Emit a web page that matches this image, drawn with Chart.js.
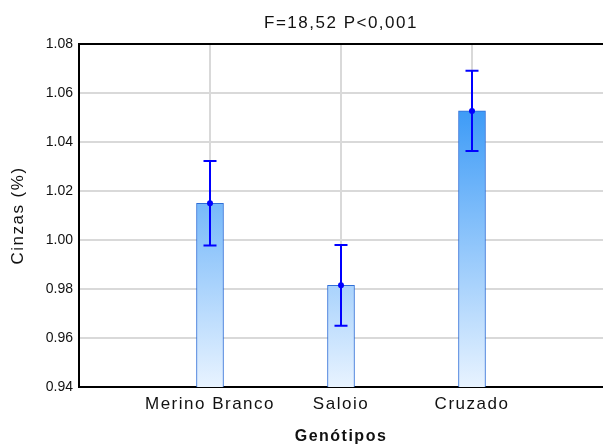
<!DOCTYPE html>
<html>
<head>
<meta charset="utf-8">
<script src="https://cdn.jsdelivr.net/npm/chart.js@4.4.1/dist/chart.umd.min.js"></script>
<style>
    html, body { margin: 0; padding: 0; background: #ffffff; }
    #wrap { width: 603px; height: 448px; }
</style>
</head>
<body>
<div id="wrap"><canvas id="myChart" width="603" height="448"></canvas></div>
<script>
// Data
const categories = ['Merino Branco', 'Saloio', 'Cruzado'];
const positions = [1, 2, 3];
const means = [1.015, 0.9815, 1.0527];
const errors = [0.0172, 0.0165, 0.0164];
const yTicks = [0.94, 0.96, 0.98, 1.00, 1.02, 1.04, 1.06, 1.08];

const chartTitle = 'F=18,52 P<0,001';
const xTitle = 'Genótipos';
const yTitle = 'Cinzas (%)';

const fontFamily = "'Liberation Sans', Arial, sans-serif";
const gridGray = '#d9d9d9';

// stretch the text a bit, the original is wide; y tick labels are drawn later without it
const spacing = {
    id: 'spacing',
    beforeUpdate(chart) { chart.ctx.letterSpacing = '1.5px'; },
    beforeDraw(chart) { chart.ctx.letterSpacing = '1.5px'; },
    afterDatasetsDraw(chart) { chart.ctx.letterSpacing = '0px'; }
};

// mean point and +/- error whiskers
const errorBars = {
    id: 'errorBars',
    afterDatasetsDraw(chart) {
        const ctx = chart.ctx;
        const x = chart.scales.x;
        const y = chart.scales.y;
        ctx.save();
        ctx.strokeStyle = '#0000ff';
        ctx.fillStyle = '#0000ff';
        ctx.lineWidth = 2;
        positions.forEach((p, i) => {
            const px = x.getPixelForValue(p);
            const top = y.getPixelForValue(means[i] + errors[i]);
            const bot = y.getPixelForValue(means[i] - errors[i]);
            const mid = y.getPixelForValue(means[i]);
            ctx.beginPath();
            ctx.moveTo(px, top); ctx.lineTo(px, bot);
            ctx.moveTo(px - 6.5, top); ctx.lineTo(px + 6.5, top);
            ctx.moveTo(px - 6.5, bot); ctx.lineTo(px + 6.5, bot);
            ctx.stroke();
            ctx.beginPath();
            ctx.arc(px, mid, 3, 0, Math.PI * 2);
            ctx.fill();
        });
        ctx.restore();
    }
};

var ctx = document.getElementById('myChart').getContext('2d');
var myChart = new Chart(ctx, {
    type: 'bar',
    data: {
        datasets: [{
            data: positions.map((p, i) => ({ x: p, y: means[i] })),
            backgroundColor: function (context) {
                const area = context.chart.chartArea;
                if (!area) return '#6cb6fd';
                const g = context.chart.ctx.createLinearGradient(0, area.top, 0, area.bottom);
                g.addColorStop(0, '#1486f5');
                g.addColorStop(1, '#e8f3ff');
                return g;
            },
            borderColor: '#2f6fd8',
            borderWidth: 1,
            borderSkipped: 'bottom',
            barThickness: 27
        }]
    },
    plugins: [spacing, errorBars],
    options: {
        responsive: false,
        animation: false,
        events: [],
        layout: { padding: 0 },
        plugins: {
            legend: { display: false },
            tooltip: { enabled: false },
            title: { display: false }
        },
        scales: {
            x: {
                type: 'linear',
                position: 'bottom',
                min: 0,
                max: 4,
                offset: false,
                afterFit: function (scale) {
                    scale.height = 61;
                    scale.paddingLeft = 0;
                    scale.paddingRight = 0;
                },
                afterBuildTicks: function (scale) {
                    scale.ticks = [0, 1, 2, 3, 4].map(v => ({ value: v }));
                },
                ticks: {
                    color: '#111111',
                    font: { family: fontFamily, size: 17 },
                    padding: 0,
                    maxRotation: 0,
                    autoSkip: false,
                    callback: function (value) { return categories[value - 1] || ''; }
                },
                grid: {
                    offset: false,
                    drawTicks: true,
                    tickLength: 7,
                    tickColor: 'rgba(0,0,0,0)',
                    lineWidth: 2,
                    color: function (c) {
                        return (c.tick && c.tick.value >= 1 && c.tick.value <= 3) ? gridGray : 'rgba(0,0,0,0)';
                    }
                },
                border: { color: '#000000', width: 2 },
                title: {
                    display: true,
                    text: xTitle,
                    color: '#111111',
                    font: { family: fontFamily, size: 16, weight: 'bold' },
                    padding: { top: 0, bottom: 2 }
                }
            },
            x2: {
                type: 'linear',
                position: 'top',
                min: 0,
                max: 4,
                offset: false,
                afterFit: function (scale) {
                    scale.height = 44;
                    scale.paddingLeft = 0;
                    scale.paddingRight = 0;
                },
                ticks: { display: false },
                grid: { display: false, drawTicks: false },
                border: { color: '#000000', width: 2 },
                title: {
                    display: true,
                    text: chartTitle,
                    color: '#111111',
                    font: { family: fontFamily, size: 17 },
                    padding: { top: 13, bottom: 0 }
                }
            },
            y: {
                min: 0.94,
                max: 1.08,
                afterFit: function (scale) { scale.width = 79; },
                afterBuildTicks: function (scale) {
                    scale.ticks = yTicks.map(v => ({ value: v }));
                },
                ticks: {
                    z: 1,
                    color: '#111111',
                    font: { family: fontFamily, size: 14 },
                    padding: 6,
                    callback: function (value) { return value.toFixed(2); }
                },
                grid: {
                    drawTicks: false,
                    lineWidth: 2,
                    color: gridGray
                },
                border: { color: '#000000', width: 2 },
                title: {
                    display: true,
                    text: yTitle,
                    color: '#111111',
                    font: { family: fontFamily, size: 17 },
                    padding: { top: 8, bottom: 0 }
                }
            }
        }
    }
});
</script>
</body>
</html>
